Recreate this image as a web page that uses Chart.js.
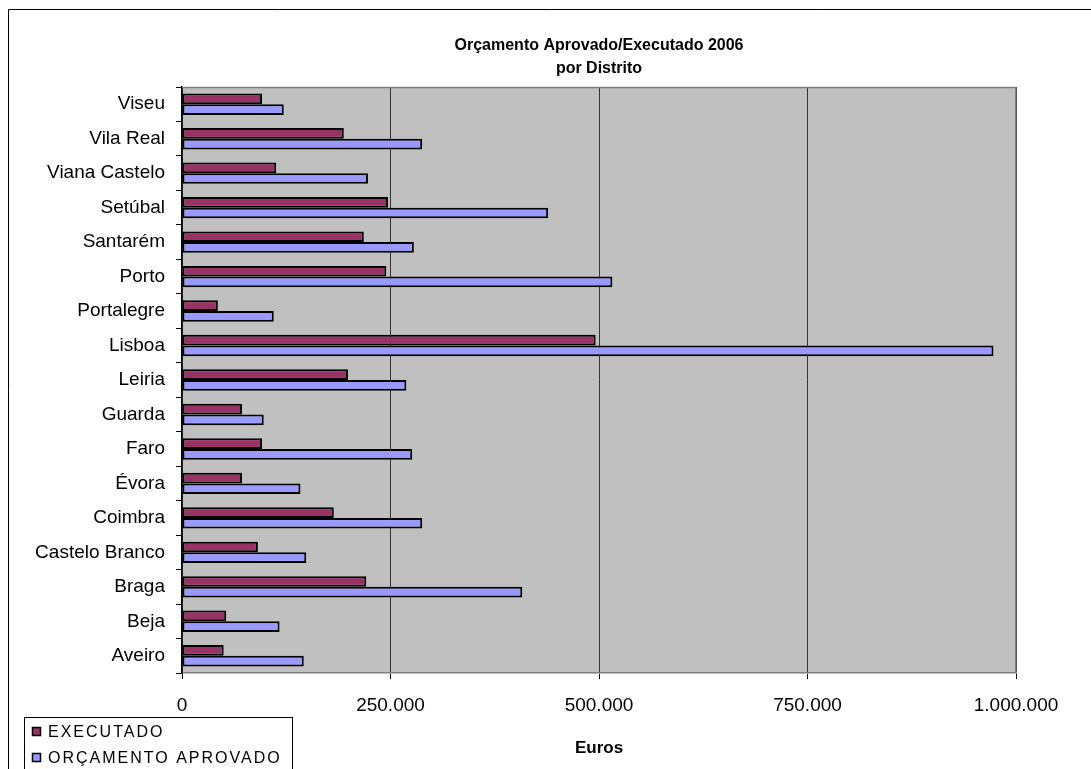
<!DOCTYPE html>
<html>
<head>
<meta charset="utf-8">
<script src="https://cdn.jsdelivr.net/npm/chart.js@4/dist/chart.umd.min.js"></script>
<style>
  html, body { margin: 0; padding: 0; background: #fff; }
  #wrap { position: relative; width: 1091px; height: 769px; }
</style>
</head>
<body>
<div id="wrap"><canvas id="c" width="1091" height="769"></canvas></div>
<script>
const categories = ['Viseu', 'Vila Real', 'Viana Castelo', 'Setúbal', 'Santarém', 'Porto', 'Portalegre', 'Lisboa', 'Leiria', 'Guarda', 'Faro', 'Évora', 'Coimbra', 'Castelo Branco', 'Braga', 'Beja', 'Aveiro'];
const executado = [96000, 194000, 113000, 247000, 218000, 245000, 43000, 496000, 199000, 72000, 96000, 72000, 182000, 91000, 221000, 53000, 50000];
const orcamentoAprovado = [122000, 288000, 223000, 439000, 278000, 516000, 110000, 973000, 269000, 98000, 276000, 142000, 288000, 149000, 408000, 117000, 146000];
const seriesNames = ['EXECUTADO', 'ORÇAMENTO APROVADO'];
const titleLines = ['Orçamento Aprovado/Executado 2006', 'por Distrito'];
const xAxisTitle = 'Euros';
const xTicks = [0, 250000, 500000, 750000, 1000000];

const FONT = '"Liberation Sans", Arial, sans-serif';
const fmt = v => String(v).replace(/\B(?=(\d{3})+(?!\d))/g, '.');

const decor = {
  id: 'decor',
  beforeDraw(chart) {
    const ctx = chart.ctx, a = chart.chartArea;
    ctx.save();
    ctx.fillStyle = '#ffffff';
    ctx.fillRect(0, 0, chart.width, chart.height);
    ctx.fillStyle = '#c0c0c0';
    ctx.fillRect(a.left, a.top, a.right - a.left, a.bottom - a.top);
    ctx.strokeStyle = '#000';
    ctx.lineWidth = 1;
    ctx.beginPath();
    ctx.moveTo(8.5, 800); ctx.lineTo(8.5, 9.5); ctx.lineTo(1100, 9.5);
    ctx.stroke();
    ctx.restore();
  },
  afterDatasetsDraw(chart) {
    const ctx = chart.ctx, a = chart.chartArea;
    ctx.save();
    ctx.strokeStyle = '#808080';
    ctx.lineWidth = 1.5;
    ctx.beginPath();
    ctx.moveTo(a.left, a.top + 0.5); ctx.lineTo(a.right - 0.25, a.top + 0.5); ctx.lineTo(a.right - 0.25, a.bottom);
    ctx.stroke();
    const cx = (a.left + a.right) / 2;
    ctx.fillStyle = '#000';
    ctx.font = 'bold 16px ' + FONT;
    ctx.textAlign = 'center';
    ctx.textBaseline = 'middle';
    ctx.fillText(titleLines[0], cx, 46);
    ctx.fillText(titleLines[1], cx, 69);
    ctx.font = 'bold 17px ' + FONT;
    ctx.fillText(xAxisTitle, cx, 748);
    ctx.strokeStyle = '#000';
    ctx.lineWidth = 1;
    ctx.fillStyle = '#fff';
    ctx.fillRect(24.5, 717.5, 268, 80);
    ctx.strokeRect(24.5, 717.5, 268, 80);
    ctx.textAlign = 'left';
    ctx.font = '16px ' + FONT;
    try { ctx.letterSpacing = '2px'; } catch (e) {}
    const ys = [732, 758];
    chart.data.datasets.forEach((ds, i) => {
      ctx.fillStyle = ds.backgroundColor;
      ctx.fillRect(32.5, ys[i] - 4.5, 8, 8);
      ctx.lineWidth = 1.5;
      ctx.strokeStyle = '#000';
      ctx.strokeRect(32.5, ys[i] - 4.5, 8, 8);
      ctx.fillStyle = '#000';
      ctx.fillText(ds.label, 48, ys[i] + 1);
    });
    ctx.restore();
  }
};

new Chart(document.getElementById('c'), {
  type: 'bar',
  data: {
    labels: categories,
    datasets: [
      { label: seriesNames[0], data: executado, backgroundColor: '#993366', borderColor: '#000', borderWidth: 2, borderSkipped: false },
      { label: seriesNames[1], data: orcamentoAprovado, backgroundColor: '#9999ff', borderColor: '#000', borderWidth: 2, borderSkipped: false }
    ]
  },
  options: {
    indexAxis: 'y',
    responsive: false,
    animation: false,
    layout: { padding: { left: 0, top: 87, right: 75, bottom: 0 } },
    datasets: { bar: { categoryPercentage: 0.62, barPercentage: 1.0 } },
    plugins: {
      legend: { display: false },
      title: { display: false },
      tooltip: { enabled: false }
    },
    scales: {
      x: {
        type: 'linear',
        min: 0, max: 1000000,
        afterBuildTicks: s => { s.ticks = xTicks.map(v => ({ value: v })); },
        afterFit: s => { s.height = 96; },
        ticks: { callback: v => fmt(v), color: '#000', font: { family: FONT, size: 19 }, padding: 15, maxRotation: 0 },
        grid: { color: '#333', lineWidth: 1, tickLength: 6, tickColor: '#000', drawOnChartArea: true },
        border: { color: '#808080', width: 1.5 }
      },
      y: {
        afterFit: s => { s.width = 182; },
        ticks: { color: '#000', font: { family: FONT, size: 19 }, padding: 11, autoSkip: false },
        grid: { offset: true, drawOnChartArea: false, tickLength: 6, color: '#000' },
        border: { color: '#000', width: 1.5 }
      }
    }
  },
  plugins: [decor]
});
</script>
</body>
</html>
